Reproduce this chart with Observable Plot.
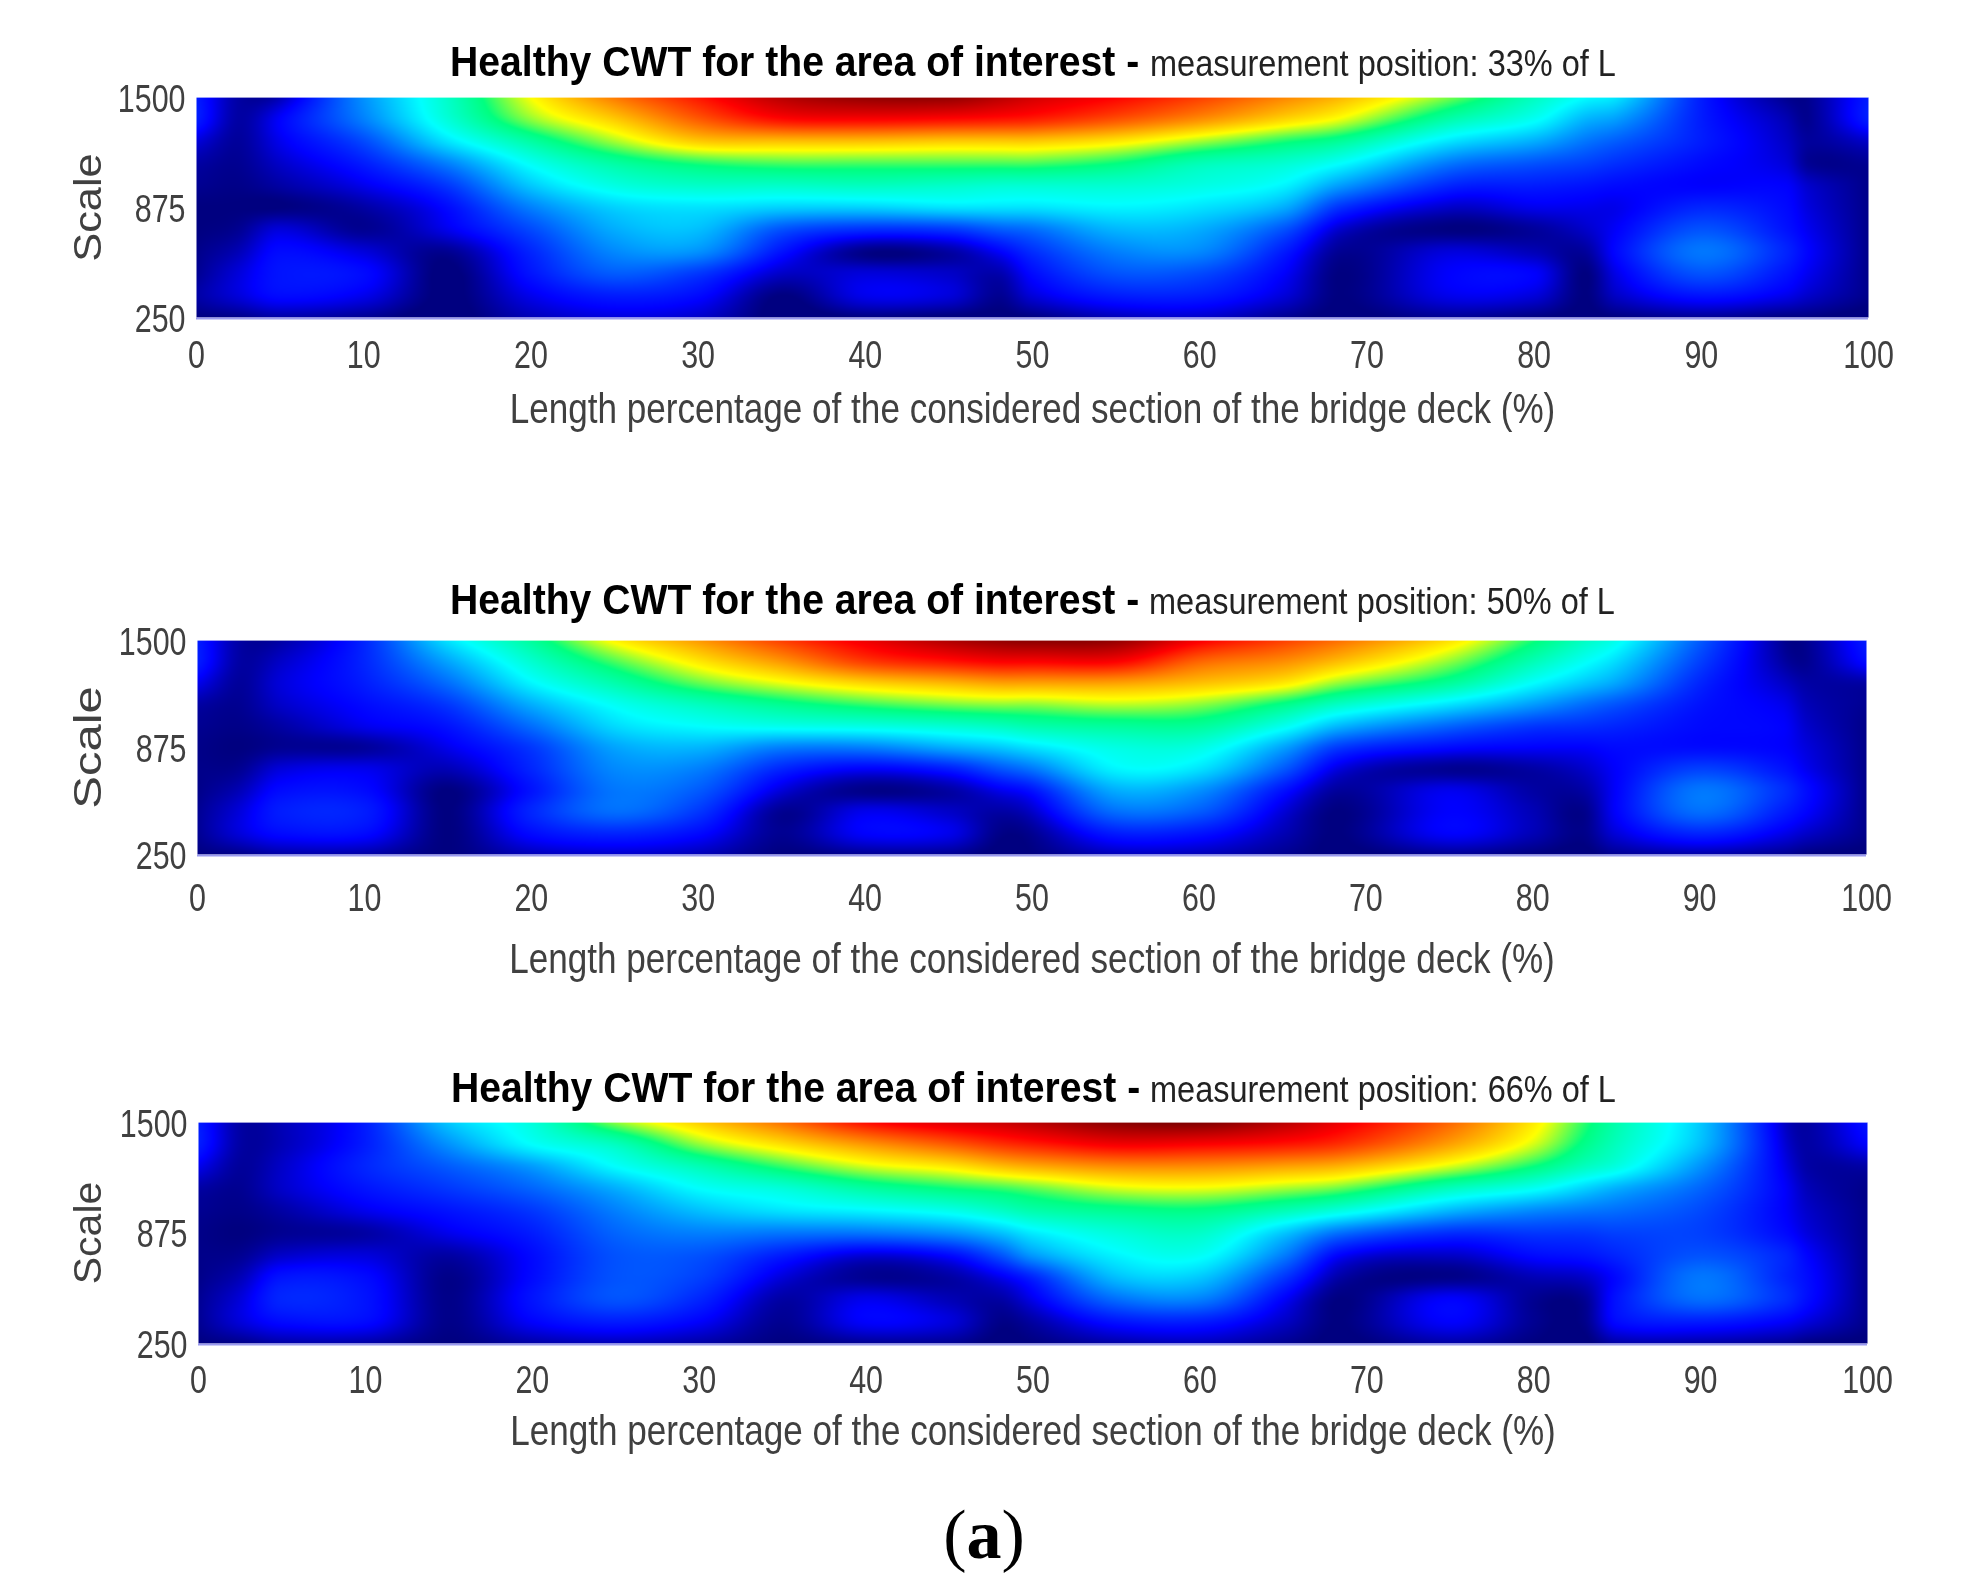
<!DOCTYPE html>
<html>
<head>
<meta charset="utf-8">
<script src="https://cdn.jsdelivr.net/npm/d3@7"></script>
<script src="https://cdn.jsdelivr.net/npm/@observablehq/plot@0.6"></script>
<style>
html,body{margin:0;padding:0;background:#fff;}
#page{position:relative;width:1966px;height:1595px;overflow:hidden;filter:blur(0.7px);background:#fff;}
.panel{position:absolute;left:0;}
.panel svg{display:block;overflow:visible;}
.title{position:absolute;white-space:nowrap;line-height:1;font-family:"Liberation Sans",sans-serif;transform-origin:0 50%;}
.title.main{font-size:43px;font-weight:700;color:#000;transform:translateY(-50%) scaleX(0.91);}
.title.note{font-size:37px;color:#222;transform:translateY(-50%) scaleX(0.878);}
#cap{position:absolute;left:984px;top:1535px;transform:translate(-50%,-50%);font:70px "Liberation Serif",serif;color:#000;line-height:1;}
</style>
</head>
<body>
<div id="page"></div>
<script>
const positions = [0,2.5,5,10,15,20,25,30,35,40,45,48,50,55,60,65,68.5,75,80,83,85,90,95,96.5,100];
const scaleLevels = [1500,1375,1250,1125,1000,875,750,625,500,375,250];
const xTicks = [0,10,20,30,40,50,60,70,80,90,100];
const yTicks = [250,875,1500];
const titleMain = "Healthy CWT for the area of interest -";
const xLabel = "Length percentage of the considered section of the bridge deck (%)";
const yLabel = "Scale";
const jetStops = [0,1,8,36,50,61,86,100];
const jetColors = ["#000080","#000080","#0000ff","#00ffff","#00ff80","#ffff00","#ff0000","#800000"];

const cwt33 = [
[11,3,4,24,42,61,74,84,94,98,98,94,91,86,80,73,68,55,43,36,33,11,2,2,11],
[11,3,8,22,40,56,66,77,85,86,85,84,83,78,72,65,60,45,37,28,25,11,4,2,11],
[6,2.5,7,16,33,46,57,66,67,67,66,66,66,63,57,51,47,33,27,21,18,11,5,2.5,5],
[3,2,5,11,22,37,46,51,53,53,53,53,53,50,44,41,36,21,17,15,13,9,6,2,2],
[2,1.5,3,7,14,30,39,42,42,43,42,41,41,41,39,35,25,12,11,10,9,8,8,5,1.5],
[1,1,1,3,9,22,31,33,31,31,33,33,33,35,33,27,13,5,7,7,7,12,9,6,1.5],
[1,2,6,2,7,16,27,29,17,13,14,18,20,28,27,17,5,1,2.5,5,8,17,10,7,1.5],
[1.5,4,9,6,2,12,23,24,10,1.5,3,8,13,22,23,11,2,6,4,2.5,9,21,12,8,1.5],
[2,6,10,9,0.5,10,18,14,5,6,5,3.5,9,17,16,8,1,8,8,1,7,17,10,7,1.5],
[3,6,9,7,0.5,7,11,9,1,7,6,2,6,11,11,6,1,7,6,1,5,10,7,5,1.5],
[1,1.5,3,2,0,4,6,5,0,1,0.5,0.5,1,4,5,2,0.5,2,1,0.5,1,2,1,1,0]
];
const cwt50 = [
[11,3,3,12,33,47,62,71,80,88,95,98,99,98,87,80,75,64,51,43,38,18,2,2,11],
[11,3,5,12,26,41,53,63,71,80,84,86,86,86,76,72,67,56,44,37,32,15,3,2,9],
[7,2.5,6,11,20,35,45,54,60,65,68,70,70,70,67,63,56,47,36,30,26,12,5,3,3],
[3,2,5,9,14,27,37,43,48,52,55,56,56,58,56,49,42,33,25,20,17,10,7,4,2],
[2,1.5,3,7,10,20,32,36,38,39,41,43,45,47,47,38,28,19,14,13,12,9,8,5,1.5],
[1.5,1,2,2.5,7,14,26,28,22,22,27,30,33,39,39,26,14,9,8,8,9,9,8,6,1.5],
[1.5,2,6,7,4,12,23,22,12,8,11,17,21,35,33,18,6,2,3,5,8,15,10,7,1.5],
[1.5,4,9,9,1,10,21,18,6,1.5,3,7,10,27,24,10,2.5,7,3,3,8,21,13,9,1.5],
[2,6,11,11,1,12,20,14,2,7,5,3,5,20,18,6,1,8,4,1.5,8,20,11,8,1.5],
[2,6,9,9,1,9,12,9,2,8,7,1.5,2,11,10,4,1,8,4,1.5,6,12,7,5,1.5],
[1,1.5,3,3,1,4,5,4,1,2,2,0.5,1,4,4,2,0.5,2,1,0.5,2,3,2,1,0.5]
];
const cwt66 = [
[11,3,4,11,30,40,56,66,75,85,90,92,94,99,100,94,88,76,63,52,45,30,5,3,10],
[11,3,4,11,24,36,43,56,64,71,77,81,83,87,86,84,81,70,59,49,43,29,6,3,8],
[7,2.5,5,12,18,25,36,44,52,59,63,67,69,72,72,70,68,59,50,43,39,24,7,3,3],
[3,2,5,10,14,19,27,36,40,46,50,52,54,59,60,57,54,43,37,31,27,19,8,4,1.5],
[2,1.5,3,7,10,14,22,29,33,35,38,42,45,48,49,44,39,28,23,21,20,16,8,5,1.5],
[1.5,1,2,3,7,11,19,22,21,21,24,29,34,40,42,30,20,13,14,14,15,15,9,6,1.5],
[1.5,2,5,6,3,9,17,17,11,6,9,17,25,35,37,22,8,5,9,10,12,17,12,8,1.5],
[1.5,4,10,9,1.5,9,17,15,6,2,3,7,12,29,30,14,3,1.5,4,5,9,21,12,9,1.5],
[2,6,12,10,1.5,10,17,12,3,7,4,3,7,20,22,8,1,8,2,2,10,20,13,9,1.5],
[2,6,9,9,1.5,8,11,8,2,8,6,1.5,3,10,11,5,1,8,2,1.5,9,11,8,6,1.5],
[1,1.5,3,3,1,3,4,3,1,2,2,0.5,1,3,4,2,0.5,3,1,0.5,3,3,2,1,0.5]
];

// Smooth surface through the read grid (Hermite on the grid's own spacing); Plot's raster colours every pixel.
function smoothGrid(index, w, h, X, Y, V) {
  const xs = d3.sort(d3.union(Array.from(index, i => X[i])));
  const ys = d3.sort(d3.union(Array.from(index, i => Y[i])));
  const xi = new Map(xs.map((d, i) => [d, i])), yi = new Map(ys.map((d, i) => [d, i]));
  const grid = ys.map(() => new Float64Array(xs.length));
  for (const i of index) grid[yi.get(Y[i])][xi.get(X[i])] = V[i];
  const slope = (P, v, i) => {
    const a = Math.max(0, i - 1), b = Math.min(P.length - 1, i + 1);
    return (v(b) - v(a)) / (P[b] - P[a]);
  };
  const hermite = (P, v, i, t) => {
    const d = P[i + 1] - P[i], t2 = t * t, t3 = t2 * t;
    return (2 * t3 - 3 * t2 + 1) * v(i) + (t3 - 2 * t2 + t) * d * slope(P, v, i)
      + (-2 * t3 + 3 * t2) * v(i + 1) + (t3 - t2) * d * slope(P, v, i + 1);
  };
  const locate = (arr, v) => {
    const k = Math.max(0, Math.min(arr.length - 2, d3.bisectRight(arr, v) - 1));
    return [k, Math.max(0, Math.min(1, (v - arr[k]) / (arr[k + 1] - arr[k])))];
  };
  const out = new Float64Array(w * h);
  for (let py = 0; py < h; ++py) {
    const [j, ty] = locate(ys, py + 0.5);
    for (let px = 0; px < w; ++px) {
      const [i, tx] = locate(xs, px + 0.5);
      const rowValue = r => hermite(xs, c => grid[r][c], i, tx);
      out[py * w + px] = hermite(ys, rowValue, j, ty);
    }
  }
  return out;
}

const panels = [
  {grid: cwt33, note: "measurement position: 33% of L", left: 196, right: 1868, top: 97, bottom: 317, titleX: 450, noteX: 1150, titleY: 61, tickPad: 23, labelDy: 92, scaleSx: 1.14},
  {grid: cwt50, note: "measurement position: 50% of L", left: 197, right: 1866, top: 640, bottom: 854, titleX: 450, noteX: 1149, titleY: 599, tickPad: 29, labelDy: 105, scaleSx: 1.29},
  {grid: cwt66, note: "measurement position: 66% of L", left: 198, right: 1867, top: 1122, bottom: 1343, titleX: 451, noteX: 1150, titleY: 1087, tickPad: 22, labelDy: 88, scaleSx: 1.08}
];

const page = document.getElementById("page");
const sans = '"Liberation Sans",sans-serif';
for (const p of panels) {
  const cells = p.grid.flatMap((row, r) => row.map((v, c) => ({x: positions[c], y: scaleLevels[r], v})));
  const marginTop = 30, marginBottom = 130;
  const chart = Plot.plot({
    width: 1966,
    height: p.bottom - p.top + marginTop + marginBottom,
    marginLeft: p.left, marginRight: 1966 - p.right, marginTop, marginBottom,
    style: {background: "transparent", color: "#404040", overflow: "visible"},
    x: {domain: [0, 100]},
    y: {domain: [250, 1500]},
    color: {type: "linear", domain: jetStops, range: jetColors, clamp: true},
    marks: [
      Plot.raster(cells, {x: "x", y: "y", fill: "v", interpolate: smoothGrid, pixelSize: 1}),
      Plot.ruleY([250], {stroke: "#9a9af0", strokeWidth: 2, dy: 1}),
      Plot.ruleY([1500], {stroke: "#ffffff", strokeOpacity: 0.45, strokeWidth: 2, dy: -1}),
      Plot.axisX({ticks: xTicks, tickSize: 0, tickPadding: p.tickPad, tickFormat: "d", label: null, fontSize: 39, fontFamily: sans}),
      Plot.axisY({ticks: yTicks, tickSize: 0, tickPadding: 11, tickFormat: "d", label: null, fontSize: 39, fontFamily: sans, dy: 2}),
      Plot.text([xLabel], {text: d => d, frameAnchor: "bottom", lineAnchor: "middle", dy: p.labelDy, fontSize: 42, fontFamily: sans}),
      Plot.text([yLabel], {text: d => d, frameAnchor: "left", textAnchor: "middle", lineAnchor: "middle", dx: 88 - p.left, rotate: -90, fontSize: 38, fontFamily: sans})
    ]
  });
  // The reference's lettering is condensed: narrow each label around its own anchor.
  for (const t of chart.querySelectorAll("text")) {
    const s = t.textContent;
    const sx = s === yLabel ? p.scaleSx : s === xLabel ? 0.836 : 0.78;
    t.setAttribute("transform", (t.getAttribute("transform") || "") + ` scale(${sx},1)`);
  }
  const wrap = document.createElement("div");
  wrap.className = "panel";
  wrap.style.top = (p.top - marginTop) + "px";
  wrap.appendChild(chart);
  page.appendChild(wrap);

  const b = document.createElement("div");
  b.className = "title main";
  b.style.left = p.titleX + "px";
  b.style.top = p.titleY + "px";
  b.textContent = titleMain;
  const s = document.createElement("div");
  s.className = "title note";
  s.style.left = p.noteX + "px";
  s.style.top = (p.titleY + 2) + "px";
  s.textContent = p.note;
  page.append(b, s);
}
const cap = document.createElement("div");
cap.id = "cap";
cap.innerHTML = "(<b>a</b>)";
page.appendChild(cap);
</script>
</body>
</html>
